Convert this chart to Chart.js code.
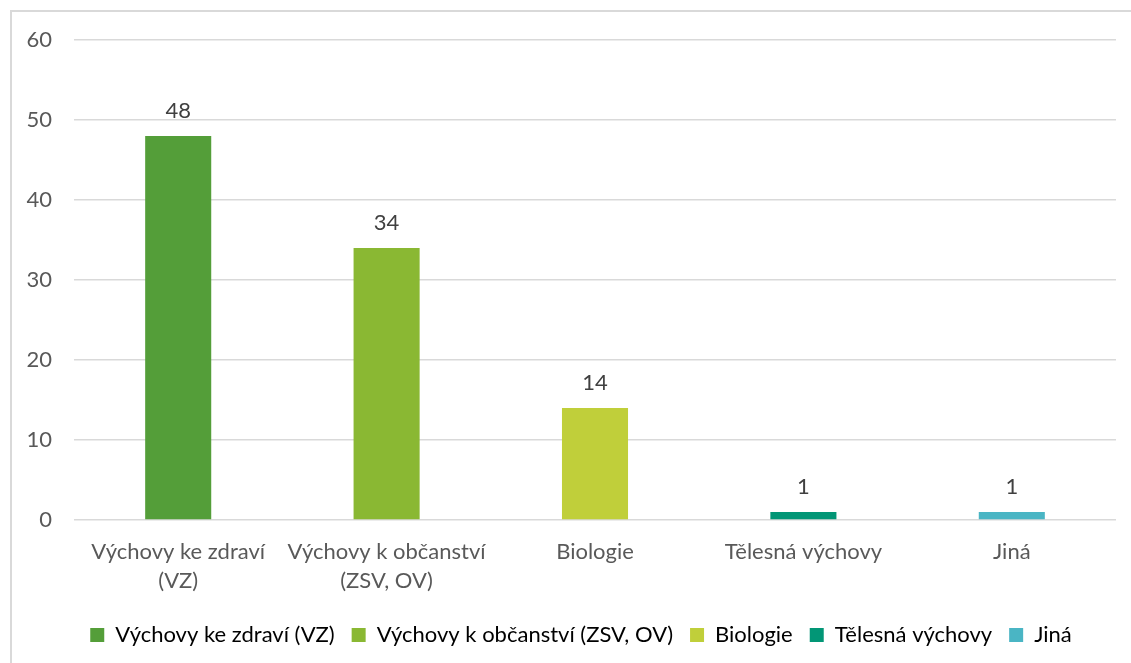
<!DOCTYPE html>
<html lang="cs">
<head>
<meta charset="utf-8">
<title>Předměty</title>
<script src="https://cdn.jsdelivr.net/npm/chart.js@4/dist/chart.umd.min.js"></script>
<style>
    html, body {
        margin: 0;
        padding: 0;
        background: #fff;
        overflow: hidden;
    }
    #frame {
        position: absolute;
        left: 10px;
        top: 10px;
        width: 1200px;
        height: 700px;
        border-left: 2px solid #d9d9d9;
        border-top: 2px solid #d9d9d9;
    }
    #wrap {
        position: absolute;
        left: 0;
        top: 0;
        width: 1131px;
        height: 663px;
    }
</style>
</head>
<body>
<div id="frame"></div>
<div id="wrap"><canvas id="chart"></canvas></div>
<script>
const categories = [
    ['Výchovy ke zdraví', '(VZ)'],
    ['Výchovy k občanství', '(ZSV, OV)'],
    'Biologie',
    'Tělesná výchovy',
    'Jiná'
];
const legendNames = [
    'Výchovy ke zdraví (VZ)',
    'Výchovy k občanství (ZSV, OV)',
    'Biologie',
    'Tělesná výchovy',
    'Jiná'
];
const counts = [48, 34, 14, 1, 1];
const barColors = ['#549e39', '#8ab833', '#c0cf3a', '#029676', '#4ab5c4'];
const yTicks = [0, 10, 20, 30, 40, 50, 60];

const fontFamily = 'Lato, "Open Sans", sans-serif';
const textColor = '#595959';

// value labels above each bar
const valueLabels = {
    id: 'valueLabels',
    afterDatasetsDraw(chart) {
        const ctx = chart.ctx;
        const meta = chart.getDatasetMeta(0);
        ctx.save();
        ctx.font = '22px ' + fontFamily;
        ctx.fillStyle = '#404040';
        ctx.textAlign = 'center';
        ctx.textBaseline = 'alphabetic';
        meta.data.forEach((bar, i) => {
            ctx.fillText(String(counts[i]), bar.x, bar.y - 18);
        });
        ctx.restore();
    }
};

// nudge the legend row a bit to the right of the canvas centre
const legendShift = {
    id: 'legendShift',
    afterLayout(chart) {
        const lg = chart.legend;
        if (!lg) return;
        lg.left += 23;
        lg.right += 23;
    }
};

const ctx = document.getElementById('chart');

new Chart(ctx, {
    type: 'bar',
    data: {
        labels: categories,
        datasets: [{
            data: counts,
            backgroundColor: barColors,
            categoryPercentage: 1,
            barPercentage: 0.317
        }]
    },
    options: {
        responsive: true,
        maintainAspectRatio: false,
        animation: false,
        layout: {
            padding: { top: 40, left: 0, right: 15, bottom: 7 }
        },
        scales: {
            x: {
                grid: { display: false },
                border: { display: false },
                ticks: {
                    color: textColor,
                    font: { family: fontFamily, size: 22, lineHeight: 1.3 },
                    padding: 10,
                    maxRotation: 0,
                    autoSkip: false
                },
                afterFit(scale) {
                    scale.height = 87;
                }
            },
            y: {
                min: 0,
                max: 60,
                afterBuildTicks(scale) {
                    scale.ticks = yTicks.map(v => ({ value: v }));
                },
                grid: {
                    color: '#d9d9d9',
                    lineWidth: 1.5,
                    drawTicks: false
                },
                border: { display: false },
                ticks: {
                    color: textColor,
                    font: { family: fontFamily, size: 22 },
                    padding: 22
                },
                afterFit(scale) {
                    scale.width = 74;
                }
            }
        },
        plugins: {
            legend: {
                position: 'bottom',
                labels: {
                    color: textColor,
                    font: { family: fontFamily, size: 22 },
                    boxWidth: 14,
                    boxHeight: 14,
                    padding: 17,
                    generateLabels() {
                        return legendNames.map((name, i) => ({
                            text: name,
                            fillStyle: barColors[i],
                            strokeStyle: barColors[i],
                            lineWidth: 0,
                            hidden: false,
                            index: i
                        }));
                    }
                },
                onClick: null
            },
            tooltip: { enabled: false }
        }
    },
    plugins: [valueLabels, legendShift]
});
</script>
</body>
</html>
